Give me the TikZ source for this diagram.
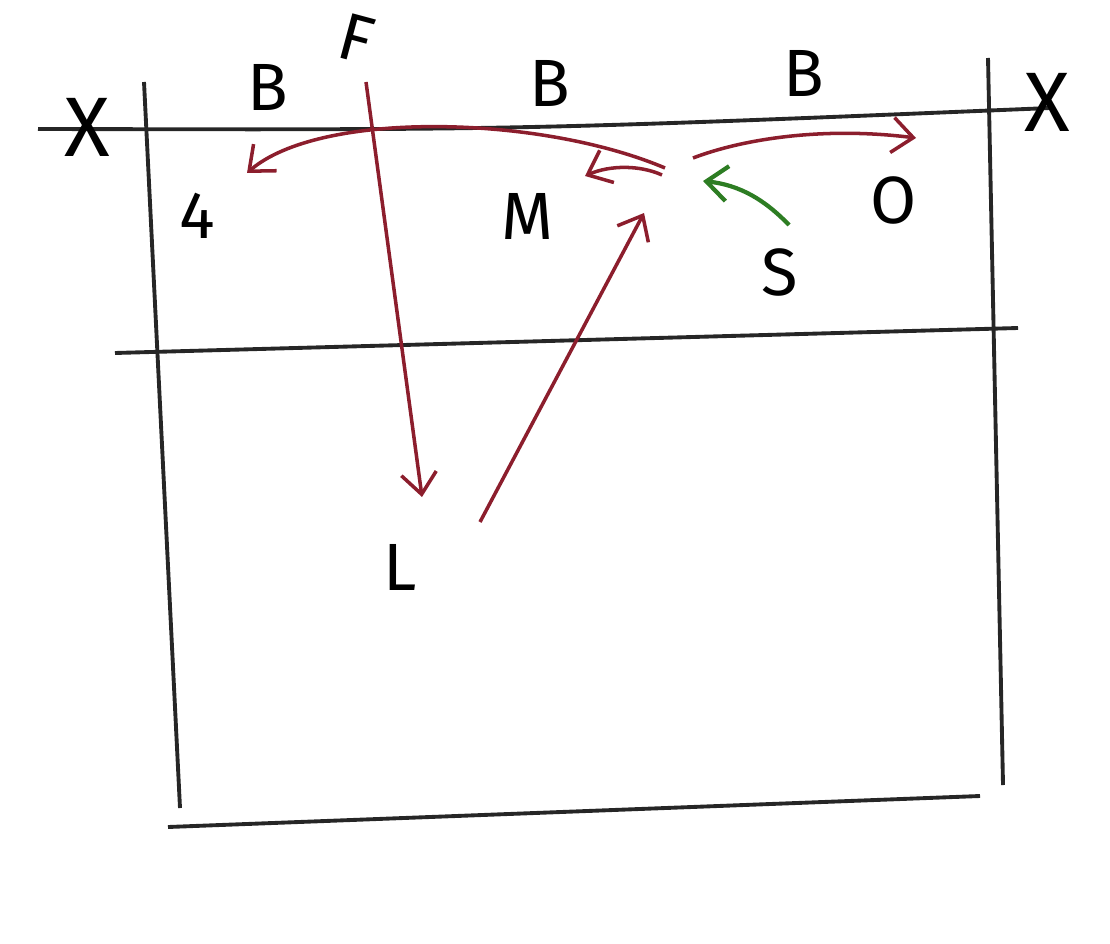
\documentclass[tikz,border=0pt]{standalone}
\usepackage{fontspec}
\setmainfont{Fira Sans}
\usepackage{tikz}
\usetikzlibrary{arrows.meta}
\definecolor{playred}{RGB}{140,30,45}
\definecolor{setgreen}{RGB}{45,125,35}
\tikzset{
  court/.style = {line width=1.1pt, black!85},
  play/.style = {line width=1pt, playred, ->},
  setpass/.style = {line width=1.2pt, setgreen, ->},
  spot/.style = {font=\fontsize{19}{22}\selectfont, inner sep=0pt},
  post/.style = {font=\fontsize{24}{26}\selectfont, inner sep=0pt}
}

\begin{document}
\begin{tikzpicture}[x=0.01cm, y=-0.01cm, >={Straight Barb[length=6pt,width=10pt]}]
\useasboundingbox (0,0) rectangle (1110,943);
% court lines
\coordinate (nl) at (38,129);
\coordinate (nr) at (1050,108);
\draw [court] (nl) .. controls (520,130) .. (nr);
\draw [court] (144,82) -- (180,808);
\draw [court] (988,58) -- (1003,785);
\draw [court] (115,353) -- (1018,328);
\draw [court] (168,827) -- (980,796);
\node [post] (xl) at (87,127) {X};
\node [post] (xr) at (1047,102) {X};
% players
\node [spot, rotate=-15] (f) at (356,39) {F};
\node [spot] (b1) at (268,87) {B};
\node [spot] (b2) at (550,83) {B};
\node [spot] (b3) at (804,73) {B};
\node [spot] (p4) at (197,216) {4};
\node [spot] (m) at (527,216) {M};
\node [spot] (o) at (894,200) {O};
\node [spot] (s) at (780,272) {S};
\node [spot] (l) at (400,567) {L};
% runs
\coordinate (fstart) at (366,82);
\coordinate (lend) at (422,497);
\coordinate (lstart) at (480,522);
\coordinate (setpt) at (644,213);
\coordinate (cl) at (665,168);
\coordinate (cr) at (693,158);
\coordinate (cm) at (662,175);
\coordinate (ostop) at (916,138);
\coordinate (p4stop) at (247,173);
\coordinate (mstop) at (585,176);
\coordinate (sstart) at (789,225);
\coordinate (sstop) at (703,181);
\draw [play] (fstart) -- (lend);
\draw [play] (lstart) -- (setpt);
\draw [play] (cl) .. controls (540,115) and (320,110) .. (p4stop);
\draw [play] (cr) .. controls (740,140) and (820,126) .. (ostop);
\draw [play] (cm) .. controls (640,165) and (610,165) .. (mstop);
\draw [setpass] (sstart) .. controls (765,200) and (740,185) .. (sstop);
\end{tikzpicture}
\end{document}
